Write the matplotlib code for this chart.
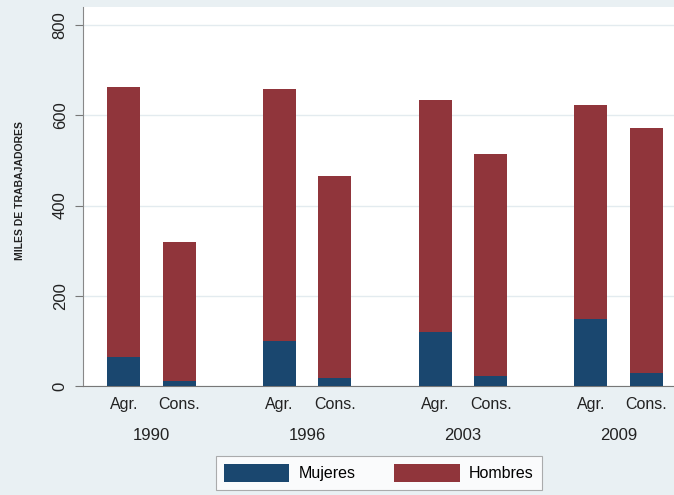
import numpy as np
import matplotlib
matplotlib.use("Agg")
import matplotlib.pyplot as plt

years = ["1990", "1996", "2003", "2009"]
sectors = ["Agr.", "Cons."]
# thousands of workers, order: Agr., Cons. for each year
mujeres = [64, 11, 100, 18, 120, 22, 149, 29]
total = [663, 319, 658, 466, 634, 514, 623, 572]
hombres = [t - m for t, m in zip(total, mujeres)]

plt.rcParams['font.family'] = ['Liberation Sans', 'DejaVu Sans']

bg = '#e9f0f3'
blue = '#1a476f'
red = '#90353b'

fig = plt.figure(figsize=(6.74, 4.95), dpi=100, facecolor=bg)
ax = fig.add_axes([0.1231, 0.2202, 0.8769, 0.7657])
ax.set_facecolor('white')

gap = 2.81
x = []
for g in range(len(years)):
    x += [g * gap, g * gap + 1]
x = np.array(x)

w = 0.595
ax.bar(x, mujeres, width=w, color=blue, label='Mujeres', zorder=3)
ax.bar(x, hombres, width=w, bottom=mujeres, color=red, label='Hombres', zorder=3)

ax.set_xlim(-0.739, 9.93)
ax.set_ylim(0, 840)
ax.set_yticks([0, 200, 400, 600, 800])
ax.set_yticklabels(['0', '200', '400', '600', '800'], rotation=90, va='center',
                   fontsize=12, color='#222222')
ax.yaxis.grid(True, color='#e3ebef', lw=1, zorder=0)
ax.tick_params(axis='y', length=6, color='#777777', pad=5)

ax.set_xticks(x)
ax.set_xticklabels(sectors * len(years), fontsize=11.5, color='#222222')
ax.tick_params(axis='x', length=0, pad=8)

for g, yr in enumerate(years):
    ax.text(g * gap + 0.5, -0.13, yr, transform=ax.get_xaxis_transform(),
            ha='center', va='center', fontsize=12, color='#222222')

for s in ['top', 'right']:
    ax.spines[s].set_visible(False)
ax.spines['left'].set_color('#888888')
ax.spines['bottom'].set_color('#777777')

fig.text(0.03, 0.615, 'MILES DE TRABAJADORES', rotation=90, ha='center', va='center',
         fontsize=7.5, fontweight='bold', color='#222222')

leg = fig.legend(loc='upper center', bbox_to_anchor=(0.562, 0.095), ncol=2,
                 frameon=True, fancybox=False, fontsize=11.5, handlelength=4.1,
                 handleheight=1.4, handletextpad=0.6, columnspacing=2.4, borderpad=0.5)
leg.get_frame().set_edgecolor('#999999')
leg.get_frame().set_linewidth(0.8)

fig.savefig('out.png', dpi=100, facecolor=bg)
